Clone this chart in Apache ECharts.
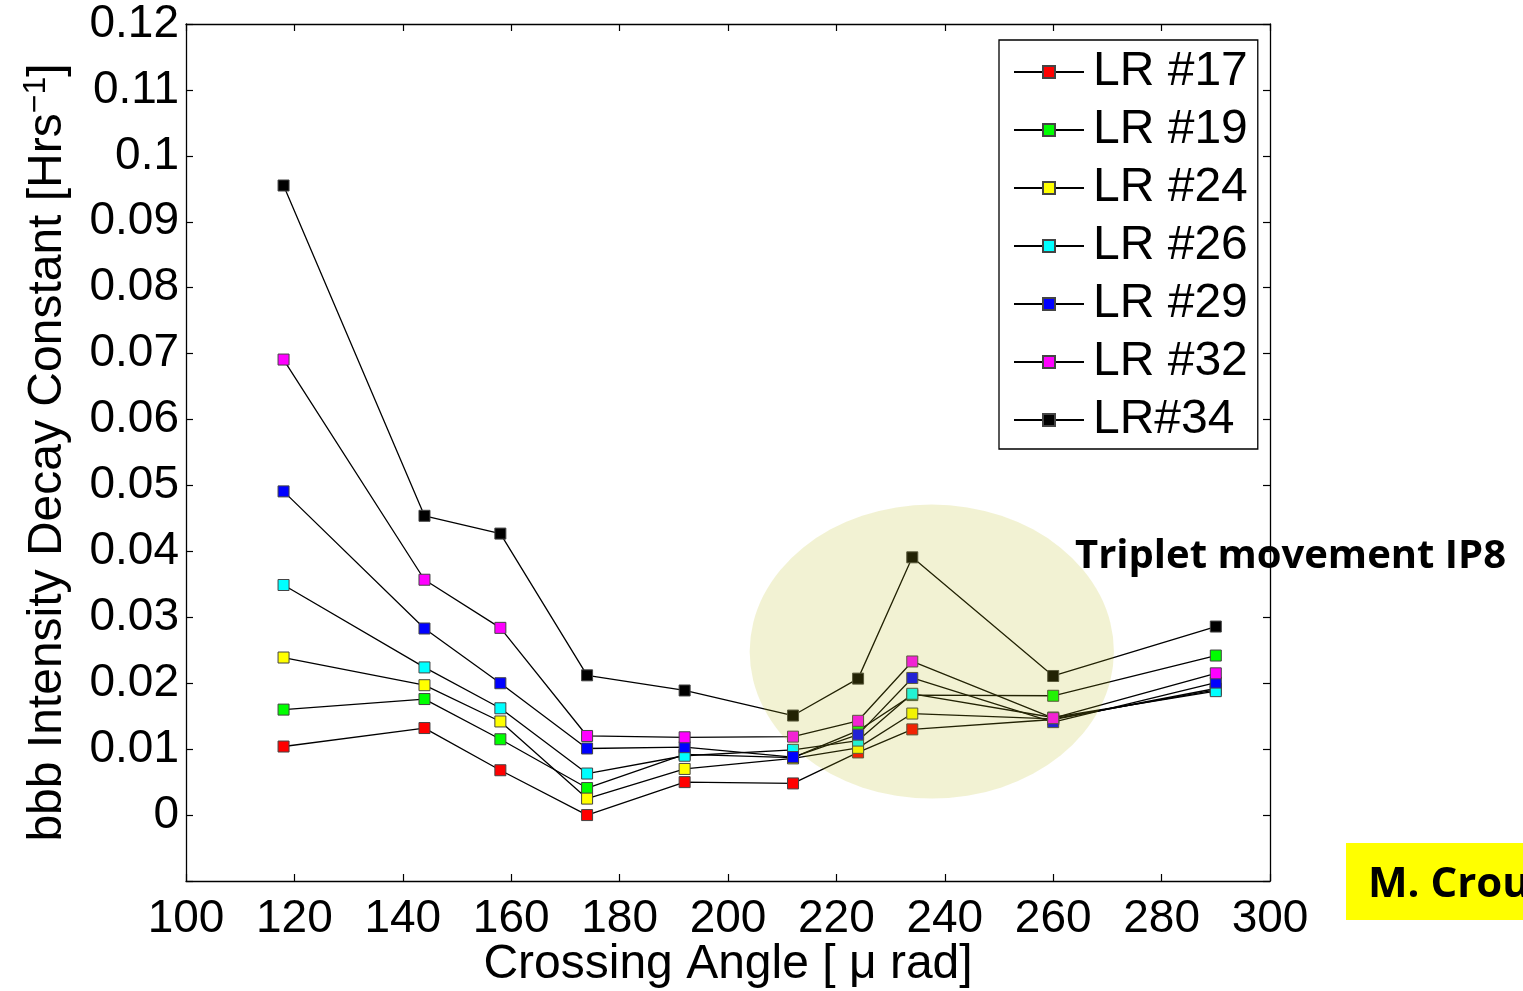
<!DOCTYPE html>
<html><head><meta charset="utf-8">
<script src="https://cdn.jsdelivr.net/npm/echarts@6/dist/echarts.min.js"></script>
<style>html,body{margin:0;padding:0;background:#fff;overflow:hidden}#c{width:1523px;height:991px}</style>
</head><body><div id="c"></div>
<script>
const angles = [118, 144, 158, 174, 192, 212, 224, 234, 260, 290];
const seriesNames = ['LR #17', 'LR #19', 'LR #24', 'LR #26', 'LR #29', 'LR #32', 'LR#34'];
const seriesColors = ['#ff0000', '#00ff00', '#ffff00', '#00ffff', '#0000ff', '#ff00ff', '#000000'];
const lr17 = [0.0104, 0.0132, 0.0068, 0.0000, 0.0050, 0.0048, 0.0095, 0.0130, 0.0145, 0.0192];
const lr19 = [0.0160, 0.0176, 0.0115, 0.0041, 0.0092, 0.0087, 0.0128, 0.0182, 0.0181, 0.0242];
const lr24 = [0.0239, 0.0197, 0.0142, 0.0025, 0.0070, 0.0086, 0.0102, 0.0154, 0.0146, 0.0190];
const lr26 = [0.0349, 0.0224, 0.0162, 0.0063, 0.0090, 0.0099, 0.0113, 0.0184, 0.0148, 0.0188];
const lr29 = [0.0491, 0.0283, 0.0200, 0.0101, 0.0103, 0.0088, 0.0122, 0.0208, 0.0141, 0.0201];
const lr32 = [0.0691, 0.0357, 0.0284, 0.0120, 0.0118, 0.0119, 0.0143, 0.0233, 0.0147, 0.0215];
const lr34 = [0.0955, 0.0454, 0.0427, 0.0212, 0.0189, 0.0151, 0.0207, 0.0391, 0.0211, 0.0286];
const allValues = [lr17, lr19, lr24, lr26, lr29, lr32, lr34];
const xTicks = [100, 120, 140, 160, 180, 200, 220, 240, 260, 280, 300];
const yTicks = [-0.01, 0, 0.01, 0.02, 0.03, 0.04, 0.05, 0.06, 0.07, 0.08, 0.09, 0.1, 0.11, 0.12];

const FONT = 'Liberation Sans, Arial, sans-serif';
const chart = echarts.init(document.getElementById('c'), null, {renderer: 'canvas'});

const series = allValues.map((vals, i) => ({
  name: seriesNames[i],
  type: 'line',
  data: vals.map((v, j) => [angles[j], v]),
  symbol: 'rect',
  symbolSize: 11,
  showAllSymbol: true,
  animation: false,
  lineStyle: {color: '#000', width: 1.3},
  itemStyle: {color: seriesColors[i], borderColor: '#444', borderWidth: 1},
  emphasis: {disabled: true},
  z: 2 + i * 0.01
}));

const common = {
  axisLine: {show: true, onZero: false, lineStyle: {color: '#000', width: 1.3}},
  axisTick: {show: true, inside: true, length: 7, lineStyle: {color: '#000', width: 1.2}},
  splitLine: {show: false}
};

chart.setOption({
  animation: false,
  backgroundColor: '#fff',
  grid: {left: 186, top: 24, right: 253, bottom: 110, containLabel: false, outerBoundsMode: 'none'},
  legend: {
    data: seriesNames,
    orient: 'vertical',
    left: 999, top: 40,
    padding: [8, 10, 5, 14],
    borderColor: '#000', borderWidth: 1.3,
    backgroundColor: '#fff',
    itemWidth: 70, itemHeight: 15, itemGap: 10,
    textStyle: {fontFamily: FONT, fontSize: 48, color: '#000', padding: [0, 0, 0, 4]},
    selectedMode: false,
    z: 10
  },
  xAxis: [
    Object.assign({
      type: 'value', min: xTicks[0], max: xTicks[xTicks.length - 1], interval: 20,
      axisLabel: {fontFamily: FONT, fontSize: 46, color: '#000', margin: 15},
      name: 'Crossing Angle [ μ rad]', nameLocation: 'middle', nameGap: 60, nameMoveOverlap: false,
      nameTextStyle: {fontFamily: FONT, fontSize: 48, color: '#000'}
    }, common),
    Object.assign({
      type: 'value', position: 'top', min: xTicks[0], max: xTicks[xTicks.length - 1], interval: 20,
      axisLabel: {show: false}
    }, common)
  ],
  yAxis: [
    Object.assign({
      type: 'value', min: yTicks[0], max: yTicks[yTicks.length - 1], interval: 0.01,
      axisLabel: {fontFamily: FONT, fontSize: 46, color: '#000', margin: 7,
        formatter: v => (Math.abs(v + 0.01) < 1e-9 ? '' : String(parseFloat(v.toFixed(2))))},
      name: 'bbb Intensity Decay Constant [Hrs{sup|−1}]', nameLocation: 'middle', nameGap: 110,
      nameRotate: 90,
      nameTextStyle: {fontFamily: FONT, fontSize: 48, color: '#000',
        rich: {sup: {fontFamily: FONT, fontSize: 32, color: '#000', verticalAlign: 'top', padding: [0, 0, 24, 0]}}}
    }, common),
    Object.assign({
      type: 'value', position: 'right', min: yTicks[0], max: yTicks[yTicks.length - 1], interval: 0.01,
      axisLabel: {show: false}
    }, common)
  ],
  series: series
});

function placeGraphics() {
  const c = chart.convertToPixel({gridIndex: 0}, [237.6, 0.0248]);
  const e = chart.convertToPixel({gridIndex: 0}, [237.6 + 33.6, 0.0248 - 0.0223]);
  const rx = e[0] - c[0], ry = e[1] - c[1];
  chart.setOption({
    graphic: [
      {type: 'circle', x: c[0], y: c[1], scaleX: rx / ry, scaleY: 1, shape: {cx: 0, cy: 0, r: ry},
        style: {fill: 'rgba(185,185,20,0.19)'},
        z: 50, silent: true},
      {type: 'text', x: 1075, y: 557, z: 60,
        style: {text: 'Triplet movement IP8', fontFamily: 'Open Sans, sans-serif', fontWeight: 'bold', fontSize: 40, fill: '#000', verticalAlign: 'middle'}},
      {type: 'rect', shape: {x: 1346, y: 843, width: 200, height: 77}, style: {fill: '#ffff00'}, z: 60},
      {type: 'text', x: 1368, y: 885, z: 61,
        style: {text: 'M. Crouch', fontFamily: 'Open Sans, sans-serif', fontWeight: 'bold', fontSize: 42, fill: '#000', verticalAlign: 'middle'}}
    ]
  });
}
placeGraphics();
</script>
</body></html>
